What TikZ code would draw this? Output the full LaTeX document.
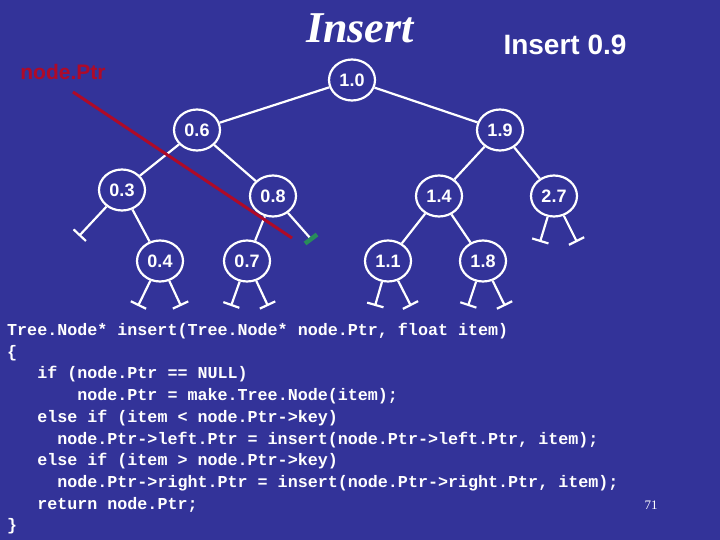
\documentclass[tikz,border=0pt]{standalone}
\usepackage{fontspec}
\setmainfont{Liberation Serif}
\setsansfont{Liberation Sans}
\setmonofont{Liberation Mono}
\usetikzlibrary{arrows.meta,shapes.geometric,calc}
\definecolor{bg}{RGB}{51,51,153}
\definecolor{ptr}{RGB}{175,10,40}
\definecolor{nilg}{RGB}{40,140,90}
\begin{document}
\begin{tikzpicture}[x=1pt,y=-1pt,
  tn/.style={draw=white,line width=2.2pt,ellipse,minimum width=46pt,minimum height=41pt,inner sep=0pt,text=white,font=\sffamily\bfseries\fontsize{18}{18}\selectfont},
  ed/.style={draw=white,line width=2.2pt},
  nil/.style={draw=white,line width=2.2pt,-{Bar[width=17pt,line width=2.2pt]}}]
\fill[bg] (0,0) rectangle (720,540);
\useasboundingbox (0,0) rectangle (720,540);
\node[text=white,font=\rmfamily\bfseries\itshape\fontsize{44}{44}\selectfont] (title) at (360,28) {Insert};
\node[text=white,font=\sffamily\bfseries\fontsize{28}{28}\selectfont] (sub) at (565,45) {Insert 0.9};
\node[text=ptr,font=\sffamily\bfseries\fontsize{21}{21}\selectfont] (np) at (63,72) {node.Ptr};
\node[tn] (n10) at (352,80) {1.0};
\node[tn] (n06) at (197,130) {0.6};
\node[tn] (n03) at (122,190) {0.3};
\node[tn] (n08) at (273,196) {0.8};
\node[tn] (n04) at (160,261) {0.4};
\node[tn] (n07) at (247,261) {0.7};
\node[tn] (n19) at (500,130) {1.9};
\node[tn] (n14) at (439,196) {1.4};
\node[tn] (n27) at (554,196) {2.7};
\node[tn] (n11) at (388,261) {1.1};
\node[tn] (n18) at (483,261) {1.8};
\draw[ed] (n10)--(n06); \draw[ed] (n10)--(n19);
\draw[ed] (n06)--(n03); \draw[ed] (n06)--(n08);
\draw[ed] (n03)--(n04); \draw[ed] (n08)--(n07);
\draw[ed] (n19)--(n14); \draw[ed] (n19)--(n27);
\draw[ed] (n14)--(n11); \draw[ed] (n14)--(n18);
\coordinate (a1) at (79,236); \draw[nil] (n03)--(a1);
\coordinate (a2) at (138,306); \draw[nil] (n04)--(a2);
\coordinate (a3) at (181,306); \draw[nil] (n04)--(a3);
\coordinate (a4) at (231,306); \draw[nil] (n07)--(a4);
\coordinate (a5) at (268,306); \draw[nil] (n07)--(a5);
\coordinate (a6) at (540,242); \draw[nil] (n27)--(a6);
\coordinate (a7) at (577,242); \draw[nil] (n27)--(a7);
\coordinate (a8) at (375,306); \draw[nil] (n11)--(a8);
\coordinate (a9) at (411,306); \draw[nil] (n11)--(a9);
\coordinate (a10) at (468,306); \draw[nil] (n18)--(a10);
\coordinate (a11) at (505,306); \draw[nil] (n18)--(a11);
\coordinate (g) at (311,239);
\draw[ed] (n08)--(g);
\draw[nilg,line width=4.5pt] ($(g)+(-6,4.5)$)--($(g)+(6,-4.5)$);
\coordinate (p0) at (73,92); \coordinate (p1) at (292,238);
\draw[ptr,line width=3pt] (p0)--(p1);
\node[anchor=north west,inner sep=0pt,text=white,align=left,font=\ttfamily\bfseries\fontsize{16.7}{21.7}\selectfont] (code) at (7,323) {%
Tree.Node* insert(Tree.Node* node.Ptr, float item)\\
\{\\
\ \ \ if (node.Ptr == NULL)\\
\ \ \ \ \ \ \ node.Ptr = make.Tree.Node(item);\\
\ \ \ else if (item < node.Ptr->key)\\
\ \ \ \ \ node.Ptr->left.Ptr = insert(node.Ptr->left.Ptr, item);\\
\ \ \ else if (item > node.Ptr->key)\\
\ \ \ \ \ node.Ptr->right.Ptr = insert(node.Ptr->right.Ptr, item);\\
\ \ \ return node.Ptr;\\
\}};
\node[text=white,font=\rmfamily\fontsize{13}{13}\selectfont] (pg) at (651,505) {71};
\end{tikzpicture}
\end{document}
